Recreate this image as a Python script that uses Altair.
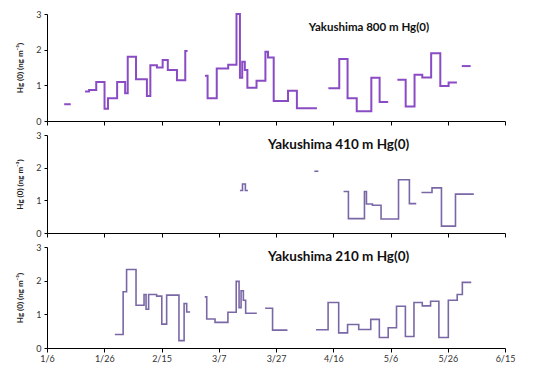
import altair as alt
import pandas as pd

# x values are day-of-year 2013 (1 = Jan 1); ticks every 20 days from 1/6
tick_days = [6, 26, 46, 66, 86, 106, 126, 146, 166]

# ---- Yakushima 800 m ----
p800_run = [1, 1] + [2] * 17 + [3] * 16 + [4] * 7 + [5] * 8 + [6] * 2
p800_day = [12.0, 14.3,
            19.3, 20.7, 23.2, 26.1, 27.3, 30.5, 33.3, 34.2, 37.1, 40.9, 42.1, 44.4, 46.4, 48.2, 51.4, 54.3, 55.1,
            61.2, 62.1, 65.3, 69.3, 72.2, 73.4, 74.2, 75.1, 76.0, 79.2, 82.3, 83.2, 85.2, 90.2, 93.3, 100.3,
            104.3, 108.1, 111.0, 114.2, 119.3, 122.2, 125.2,
            128.4, 131.3, 134.4, 137.1, 140.2, 143.4, 146.3, 149.2,
            150.9, 154.0]
p800_val = [0.47, 0.47,
            0.83, 0.87, 1.09, 0.34, 0.64, 1.09, 0.78, 1.80, 1.17, 0.70, 1.56, 1.50, 1.71, 1.43, 1.14, 1.96, 1.96,
            1.27, 0.64, 1.47, 1.58, 3.00, 1.21, 1.66, 1.43, 0.93, 1.13, 1.94, 1.78, 0.56, 0.85, 0.36, 0.36,
            0.92, 1.74, 0.64, 0.27, 1.21, 0.53, 0.53,
            1.16, 0.41, 1.30, 1.22, 1.90, 0.98, 1.08, 1.08,
            1.54, 1.54]

# ---- Yakushima 410 m ----
p410_run = [1] * 4 + [2] * 2 + [3] * 9 + [4] * 5
p410_day = [73.4, 74.3, 75.3, 76.2,
            99.4, 100.8,
            109.6, 111.3, 116.9, 117.6, 119.7, 122.7, 128.8, 132.6, 135.0,
            136.8, 140.5, 143.8, 148.7, 155.1]
p410_val = [1.30, 1.50, 1.30, 1.30,
            1.89, 1.89,
            1.27, 0.44, 1.27, 0.89, 0.85, 0.43, 1.63, 0.90, 0.90,
            1.24, 1.38, 0.21, 1.19, 1.19]

# ---- Yakushima 210 m ----
p210_run = [1] * 14 + [2] * 10 + [3] * 3 + [4] * 18
p210_day = [29.7, 32.6, 33.8, 37.1, 39.9, 40.6, 41.5, 44.3, 46.1, 47.8, 52.1, 53.9, 54.8, 56.0,
            61.1, 61.8, 64.7, 69.2, 72.1, 73.1, 73.8, 74.6, 75.4, 79.3,
            82.2, 84.8, 90.0,
            100.0, 104.2, 107.9, 111.0, 114.9, 119.1, 122.1, 125.2, 128.1, 131.2, 134.2, 137.1, 140.0,
            142.9, 146.2, 149.3, 151.1, 154.2]
p210_val = [0.40, 1.67, 2.33, 1.27, 1.59, 1.15, 1.59, 1.54, 0.71, 1.57, 0.22, 1.32, 1.07, 1.07,
            1.52, 0.86, 0.76, 1.06, 1.98, 1.20, 1.70, 1.42, 1.03, 1.03,
            1.18, 0.53, 0.53,
            0.54, 1.35, 0.45, 0.70, 0.55, 0.85, 0.31, 0.60, 1.24, 0.34, 1.35, 1.25, 1.39, 0.31,
            1.42, 1.59, 1.95, 1.95]

titles = ["Yakushima 800 m Hg(0)", "Yakushima 410 m Hg(0)", "Yakushima 210 m Hg(0)"]
y_title = "Hg (0)  (ng m\u207b\u00b3)"
x_title = "2013 (month/day)"

W = 458
FONT = "Lato"


def panel(run, day, val, color, sw, title, tx, ty, talign, tsize, h, last):
    df = pd.DataFrame({"run": run, "day": day, "hg": val})
    xkw = dict(values=tick_days, grid=False, domainColor="black", tickColor="black",
               tickSize=4, labelFont=FONT, labelFontSize=9, labelColor="#333333",
               labelPadding=2, labelFlush=False,
               labelExpr="timeFormat(datetime(2013, 0, datum.value), '%-m/%-d')")
    if last:
        xkw.update(title=x_title, titleFont=FONT, titleFontSize=10, titleFontWeight="normal",
                   titlePadding=4)
    else:
        xkw.update(labels=False, title="")
    line = alt.Chart(df).mark_line(interpolate="step-after", color=color, strokeWidth=sw).encode(
        x=alt.X("day:Q", scale=alt.Scale(domain=[6, 166], nice=False, zero=False), axis=alt.Axis(**xkw)),
        y=alt.Y("hg:Q", scale=alt.Scale(domain=[0, 3], nice=False),
                axis=alt.Axis(values=[0, 1, 2, 3], grid=False, domainColor="black", tickColor="black",
                              tickSize=3, labelFont=FONT, labelFontSize=9, labelColor="#333333",
                              labelPadding=3, title=y_title, titleFont=FONT, titleFontSize=8,
                              titleFontWeight="bold", titleColor="#222222", titlePadding=5,
                              minExtent=18, maxExtent=18)),
        detail="run:N",
    )
    txt = alt.Chart(pd.DataFrame({"t": [title]})).mark_text(
        align=talign, baseline="middle", font=FONT, fontWeight="bold", fontSize=tsize, color="#111111"
    ).encode(x=alt.value(tx), y=alt.value(ty), text="t:N")
    return alt.layer(line, txt).properties(width=W, height=h)


c1 = panel(p800_run, p800_day, p800_val, "#8A4CC4", 2, titles[0], 322, 14, "center", 11.5, 107, False)
c2 = panel(p410_run, p410_day, p410_val, "#7A68A6", 1.6, titles[1], 221, 10, "left", 13.5, 98, False)
c3 = panel(p210_run, p210_day, p210_val, "#7A68A6", 1.6, titles[2], 221, 10, "left", 13.5, 101, True)

chart = alt.vconcat(c1, c2, c3, spacing=5).properties(
    padding={"left": 8, "top": 2, "right": 5, "bottom": 5}
).configure_view(stroke=None)

chart.save("out.html", embed_options={"renderer": "svg", "actions": False})
